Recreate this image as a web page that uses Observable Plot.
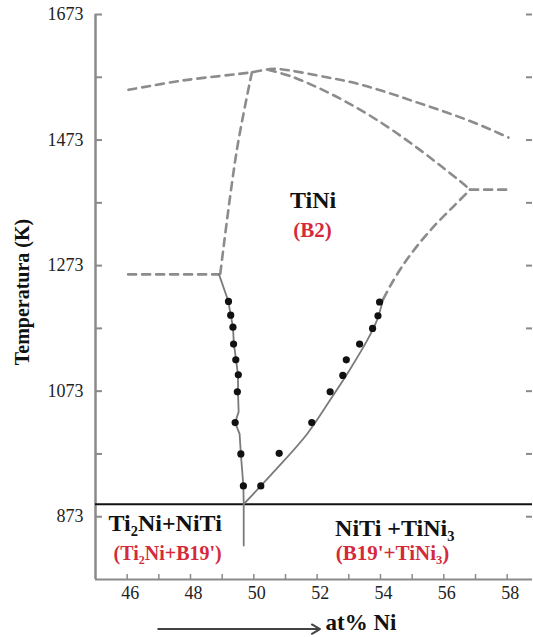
<!DOCTYPE html>
<html>
<head>
<meta charset="utf-8">
<script src="https://cdn.jsdelivr.net/npm/d3@7"></script>
<script src="https://cdn.jsdelivr.net/npm/@observablehq/plot@0.6"></script>
<style>
  html, body { margin: 0; padding: 0; background: #fff; }
  #chart { width: 533px; height: 637px; }
  #chart svg, #chart svg text, #chart svg tspan { font-family: "Liberation Serif", "DejaVu Serif", serif !important; }
</style>
</head>
<body>
<div id="chart"></div>
<script>
// ---- Data (at% Ni, Temperature K) ----
const yLabelTicks = [873, 1073, 1273, 1473, 1673];
const yTickVals = [873, 973, 1073, 1173, 1273, 1373, 1473, 1573, 1673];
const xLabelTicks = [46, 48, 50, 52, 54, 56, 58];
const xTickVals = [46, 47, 48, 49, 50, 51, 52, 53, 54, 55, 56, 57, 58];

// measured points (dots)
const leftDotsNi = [49.20, 49.27, 49.34, 49.36, 49.43, 49.51, 49.48, 49.41, 49.59, 49.67];
const leftDotsT  = [1216, 1194, 1175, 1148, 1123, 1099, 1072, 1023, 973, 922];
const rightDotsNi = [50.22, 50.80, 51.83, 52.41, 52.81, 52.92, 53.34, 53.75, 53.92, 53.97];
const rightDotsT  = [922, 974, 1023, 1072, 1098, 1123, 1148, 1173, 1193, 1215];

// solid boundaries
const leftSolidNi = [48.90, 49.19, 49.27, 49.34, 49.37, 49.44, 49.50, 49.50, 49.52, 49.41, 49.55, 49.59, 49.67, 49.68, 49.68];
const leftSolidT  = [1259, 1217, 1194, 1175, 1148, 1123, 1099, 1072, 1040, 1023, 1005, 973, 922, 893, 827];
const rightSolidNi = [49.68, 50.62, 51.67, 52.45, 53.04, 53.57, 53.88, 54.09];
const rightSolidT  = [893, 944, 1004, 1062, 1108, 1153, 1185, 1220];

// dashed (estimated) boundaries
const topNi = [46.04, 47.78, 49.94, 50.50, 50.83, 52.31, 53.25, 54.20, 55.15, 56.09, 57.04, 58.04];
const topT  = [1553, 1568, 1581, 1586, 1586, 1573, 1563, 1549, 1533, 1517, 1499, 1477];
const innerNi = [50.45, 51.20, 52.00, 52.80, 53.60, 54.40, 55.20, 55.90, 56.50, 56.83];
const innerT  = [1585, 1574, 1557, 1537, 1514, 1488, 1459, 1432, 1408, 1394];
const lowerNi = [54.09, 54.30, 54.70, 55.20, 55.75, 56.30, 56.83];
const lowerT  = [1220, 1240, 1273, 1307, 1339, 1367, 1394];
const plateauNi = [56.83, 58.15];
const plateauT  = [1394, 1394];
const vertNi = [49.94, 49.46, 48.94];
const vertT  = [1581, 1456, 1260];
const leftFlatNi = [46.03, 48.90];
const leftFlatT  = [1259, 1259];

const eutectoidT = 893;

// region labels
const labelText  = ["TiNi", "(B2)", "Ti₂Ni+NiTi", "(Ti₂Ni+B19')", "NiTi +TiNi₃", "(B19'+TiNi₃)"];
const labelNi    = [51.87, 51.85, 47.20, 47.28, 54.45, 54.38];
const labelT     = [1377, 1329, 863, 814, 855, 814];
const labelColor = ["#111", "#d42a3a", "#111", "#d42a3a", "#111", "#d42a3a"];
const labelSize  = [24, 21, 24, 20, 24, 21];

// axis arrow (x label)
const arrowNi = [46.98, 52.09];
const arrowT = 694;

// ---- tables ----
const zip = (xs, ys, extra) => xs.map((x, i) => ({ni: x, t: ys[i], ...extra}));
const dots = [...zip(leftDotsNi, leftDotsT), ...zip(rightDotsNi, rightDotsT)];
const solidL = zip(leftSolidNi, leftSolidT);
const solidR = zip(rightSolidNi, rightSolidT);
const dashedCurves = [
  ...zip(topNi, topT, {s: "top"}),
  ...zip(innerNi, innerT, {s: "inner"}),
  ...zip(lowerNi, lowerT, {s: "lower"}),
  ...zip(vertNi, vertT, {s: "vert"})
];
const dashedFlat = [
  ...zip(plateauNi, plateauT, {s: "plateau"}),
  ...zip(leftFlatNi, leftFlatT, {s: "leftflat"})
];
const labels = labelText.map((t, i) => ({text: t, ni: labelNi[i], t: labelT[i], c: labelColor[i], fs: labelSize[i]}));

const W = 533, H = 637, ML = 95, MR = 1, MT = 14, MB = 58;
const innerW = W - ML - MR, innerH = H - MT - MB;
const axisGray = "#8a8a8a";
const SERIF = "'Liberation Serif', 'DejaVu Serif', serif";

const chart = Plot.plot({
  width: W, height: H,
  marginLeft: ML, marginRight: MR, marginTop: MT, marginBottom: MB,
  style: {fontSize: "18px", background: "#fff", color: "#222", fontFamily: SERIF},
  x: {domain: [45, 58.8]},
  y: {domain: [773, 1673]},
  marks: [
    Plot.ruleX([45], {stroke: axisGray, strokeWidth: 2.5}),
    Plot.ruleY([773], {stroke: axisGray, strokeWidth: 2}),
    Plot.tickY(yTickVals, {y: d => d, insetRight: innerW - 7, stroke: axisGray, strokeWidth: 2}),
    Plot.tickY(yTickVals, {y: d => d, insetLeft: innerW - 6, stroke: axisGray, strokeWidth: 2}),
    Plot.tickX(xTickVals, {x: d => d, insetTop: innerH - 5, stroke: axisGray, strokeWidth: 1.5}),
    Plot.axisY({ticks: yLabelTicks, tickFormat: d => String(d), tickSize: 0, tickPadding: 12, label: null, fontSize: 18, fill: "#222", fontFamily: SERIF}),
    Plot.axisX({ticks: xLabelTicks, tickFormat: d => String(d), tickSize: 0, tickPadding: 7, dx: 3, label: null, fontSize: 18, fill: "#222", fontFamily: SERIF}),
    Plot.ruleY([eutectoidT], {stroke: "#111", strokeWidth: 2}),
    Plot.line(dashedCurves, {x: "ni", y: "t", z: "s", curve: "catmull-rom", stroke: "#8c8c8c", strokeWidth: 2.6, strokeDasharray: "8,6"}),
    Plot.line(dashedFlat, {x: "ni", y: "t", z: "s", stroke: "#8c8c8c", strokeWidth: 2.6, strokeDasharray: "8,6"}),
    Plot.line(solidL, {x: "ni", y: "t", stroke: "#7a7a7a", strokeWidth: 1.8}),
    Plot.line(solidR, {x: "ni", y: "t", curve: "catmull-rom", stroke: "#7a7a7a", strokeWidth: 1.8}),
    Plot.dot(dots, {x: "ni", y: "t", r: 3.6, fill: "#111", stroke: "none"}),
    Plot.text(labels, {x: "ni", y: "t", text: "text", fill: "c", fontSize: "fs", fontWeight: "bold", fontFamily: SERIF, textAnchor: "middle", lineAnchor: "middle"}),
    Plot.text(["Temperatura (K)"], {frameAnchor: "left", textAnchor: "middle", lineAnchor: "middle", rotate: -90, dx: -73, dy: -5, fontSize: 20, fontWeight: "bold", fill: "#111", fontFamily: SERIF}),
    Plot.text(["at% Ni"], {frameAnchor: "bottom", textAnchor: "middle", lineAnchor: "middle", dx: 47, dy: 43, fontSize: 23, fontWeight: "bold", fill: "#111", fontFamily: SERIF}),
    Plot.arrow([{x1: arrowNi[0], x2: arrowNi[1], y: arrowT}], {x1: "x1", x2: "x2", y1: "y", y2: "y", stroke: "#444", strokeWidth: 2, headLength: 7})
  ]
});
document.getElementById("chart").appendChild(chart);
</script>
</body>
</html>
